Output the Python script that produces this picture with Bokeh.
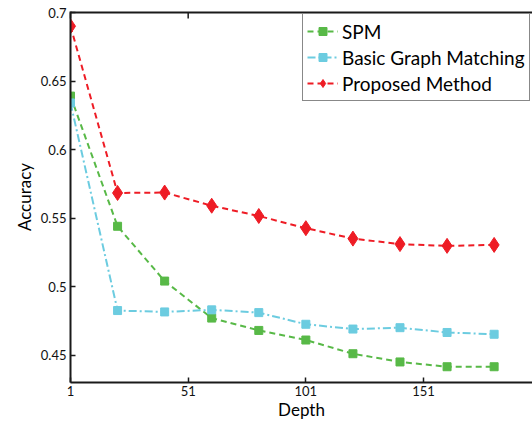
from bokeh.plotting import figure
from bokeh.models import Range1d, FixedTicker, Legend, LegendItem, Span
from bokeh.embed import file_html
from bokeh.resources import INLINE

depth = [1, 21, 41, 61, 81, 101, 121, 141, 161, 181]
spm = [0.639, 0.544, 0.504, 0.477, 0.468, 0.461, 0.451, 0.445, 0.4415, 0.4415]
basic = [0.634, 0.4825, 0.4815, 0.483, 0.481, 0.4725, 0.469, 0.470, 0.4665, 0.4652]
proposed = [0.690, 0.5683, 0.5686, 0.559, 0.5515, 0.5426, 0.535, 0.531, 0.5297, 0.5304]

xticks = [1, 51, 101, 151]
xtick_labels = ["1", "51", "101", "151"]
yticks = [0.45, 0.5, 0.55, 0.6, 0.65, 0.7]
ytick_labels = ["0.45", "0.5", "0.55", "0.6", "0.65", "0.7"]

series_names = ["SPM", "Basic Graph Matching", "Proposed Method"]

FONT = "Lato"
GREEN = "#58B947"
CYAN = "#6CCCE0"
RED = "#EE1C25"
AXIS = "#1a1a1a"

X0, X1 = 1, 197.3
Y0, Y1 = 0.43, 0.7
PX = (Y1 - Y0) / 370.0          # data units per screen pixel (vertical)

p = figure(width=532, height=422, output_backend="svg", toolbar_location=None,
           x_range=Range1d(X0, X1), y_range=Range1d(Y0, Y1 + PX),
           min_border_left=70, min_border_right=0, min_border_top=11, min_border_bottom=30)
p.title.visible = False
p.outline_line_color = None
p.xgrid.grid_line_color = None
p.ygrid.grid_line_color = None
p.background_fill_color = "white"

def style_axis(ax):
    ax.axis_line_color = AXIS
    ax.axis_line_width = 2
    ax.major_tick_line_color = AXIS
    ax.major_tick_line_width = 1.5
    ax.major_tick_in = 5
    ax.major_tick_out = 0
    ax.minor_tick_line_color = None
    ax.major_label_text_font = FONT
    ax.major_label_text_font_size = "13px"
    ax.major_label_text_color = "#111111"
    ax.axis_label_text_font = FONT
    ax.axis_label_text_font_size = "17px"
    ax.axis_label_text_font_style = "normal"
    ax.axis_label_text_color = "#000000"

xa = p.xaxis[0]
style_axis(xa)
xa.ticker = FixedTicker(ticks=xticks)
xa.major_label_overrides = dict(zip(xticks, xtick_labels))
xa.axis_label = "Depth"
xa.major_label_standoff = 3
xa.axis_label_standoff = 0

ya = p.yaxis[0]
style_axis(ya)
ya.ticker = FixedTicker(ticks=yticks)
ya.major_label_overrides = dict(zip(yticks, ytick_labels))
ya.axis_label = "Accuracy"
ya.major_label_standoff = 4
ya.axis_label_standoff = 3

# top edge of the box, with inward ticks
p.line(x=[X0, X1], y=[Y1, Y1], line_color=AXIS, line_width=2, level="overlay")
p.segment(x0=xticks, y0=[Y1] * len(xticks), x1=xticks, y1=[Y1 - 6 * PX] * len(xticks),
          line_color=AXIS, line_width=1.5, level="overlay")

l1 = p.line(depth, spm, line_color=GREEN, line_width=2, line_dash="6 4")
m1 = p.scatter(depth, spm, marker="square", size=8, fill_color=GREEN, line_color=GREEN)
l2 = p.line(depth, basic, line_color=CYAN, line_width=2, line_dash="8 3 2 3")
m2 = p.scatter(depth, basic, marker="square", size=8, fill_color=CYAN, line_color=CYAN)
l3 = p.line(depth, proposed, line_color=RED, line_width=2, line_dash="6 4")
m3 = p.scatter(depth, proposed, marker="diamond", size=15, fill_color=RED, line_color=RED)

legend = Legend(items=[
    LegendItem(label=series_names[0], renderers=[l1, m1]),
    LegendItem(label=series_names[1], renderers=[l2, m2]),
    LegendItem(label=series_names[2], renderers=[l3, m3]),
], location=(232, 281))
legend.label_text_font = FONT
legend.label_text_font_size = "19px"
legend.label_text_color = "#000000"
legend.glyph_width = 31
legend.glyph_height = 20
legend.label_height = 26
legend.label_standoff = 4
legend.spacing = 0
legend.padding = 4
legend.margin = 0
legend.border_line_color = "#111111"
legend.border_line_width = 1.2
legend.background_fill_alpha = 1.0
p.add_layout(legend, "center")

open("out.html", "w").write(file_html(p, INLINE))
